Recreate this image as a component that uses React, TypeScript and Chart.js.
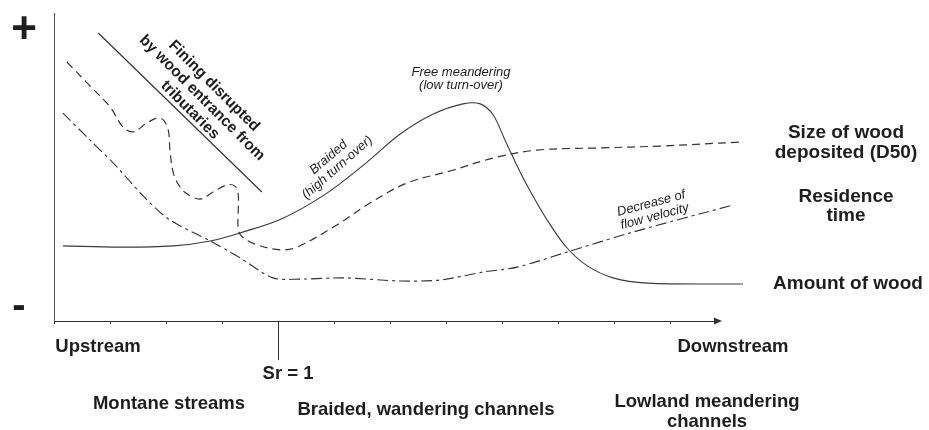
import React, { useEffect, useRef } from "react";
import { Chart, registerables } from "chart.js";

Chart.register(...registerables);

// ---- axis set-up (distance along river, relative magnitude) ----
const X_MAX = 11.8;
const Y_MAX = 10;
const X_TICKS = [0, 1, 2, 3, 4, 5, 6, 7, 8, 9, 10, 11];
const SR_X = 4; // Sr = 1 position

// ---- Amount of wood (solid) ----
const amountX = [0.16, 1.18, 2.13, 2.79, 3.32, 4.09, 4.88, 5.59, 6.18, 6.77, 7.3, 7.61, 7.84, 8.05, 8.32, 8.59, 8.86, 9.16, 9.52, 9.98, 10.59, 12.3];
const amountY = [2.44, 2.4, 2.44, 2.6, 2.86, 3.34, 4.16, 5.16, 6.07, 6.72, 7.05, 7.05, 6.69, 5.88, 4.84, 3.93, 3.12, 2.37, 1.79, 1.4, 1.23, 1.2];

// ---- Size of wood deposited (D50) (dashed) ----
const sizeX = [0.23, 0.59, 1.0, 1.23, 1.41, 1.66, 1.84, 1.95, 2.04, 2.07, 2.13, 2.25, 2.38, 2.61, 2.84, 3.09, 3.23, 3.29, 3.29, 3.38, 3.63, 4.04, 4.34, 5.05, 5.64, 6.3, 7.07, 7.84, 8.63, 9.75, 10.82, 12.25];
const sizeY = [8.41, 7.73, 6.95, 6.3, 6.14, 6.43, 6.59, 6.53, 6.2, 5.55, 4.81, 4.35, 4.12, 3.96, 4.19, 4.42, 4.38, 4.09, 2.96, 2.7, 2.47, 2.31, 2.4, 3.12, 3.83, 4.48, 4.87, 5.29, 5.55, 5.62, 5.68, 5.81];

// ---- Residence time (dash-dot) ----
const residenceX = [0.16, 0.64, 1.09, 1.63, 2.07, 2.79, 3.32, 3.91, 4.39, 5.16, 6.18, 6.89, 7.66, 8.27, 9.16, 10.34, 12.13];
const residenceY = [6.75, 5.88, 5.07, 3.99, 3.28, 2.6, 2.05, 1.4, 1.36, 1.4, 1.3, 1.33, 1.59, 1.75, 2.24, 2.89, 3.77];

// ---- "Fining disrupted" guide line ----
const finingX = [0.79, 3.71];
const finingY = [9.35, 4.19];

const INK = "#333";
const TEXT = "#1e1e1e";

const pts = (xs: number[], ys: number[]) => xs.map((x, i) => ({ x, y: ys[i] }));

type Lbl = { lines: string[]; x: number; y: number; font: string; rot?: number; lh?: number };

const LABELS: Lbl[] = [
  { lines: ["+"], x: 24, y: 31, font: "bold 44px 'Liberation Sans', Arial, sans-serif" },
  { lines: ["-"], x: 19, y: 307, font: "bold 40px 'Liberation Sans', Arial, sans-serif" },
  { lines: ["Upstream"], x: 98, y: 347, font: "bold 18.5px 'Liberation Sans', Arial, sans-serif" },
  { lines: ["Sr = 1"], x: 288, y: 374, font: "bold 18.5px 'Liberation Sans', Arial, sans-serif" },
  { lines: ["Downstream"], x: 733, y: 347, font: "bold 18.5px 'Liberation Sans', Arial, sans-serif" },
  { lines: ["Montane streams"], x: 169, y: 404, font: "bold 18.5px 'Liberation Sans', Arial, sans-serif" },
  { lines: ["Braided, wandering channels"], x: 426, y: 410, font: "bold 18.5px 'Liberation Sans', Arial, sans-serif" },
  { lines: ["Lowland meandering", "channels"], x: 707, y: 412, lh: 20, font: "bold 18.5px 'Liberation Sans', Arial, sans-serif" },
  { lines: ["Size of wood", "deposited (D50)"], x: 846, y: 143, lh: 20, font: "bold 19px 'Liberation Sans', Arial, sans-serif" },
  { lines: ["Residence", "time"], x: 846, y: 206, lh: 19, font: "bold 19px 'Liberation Sans', Arial, sans-serif" },
  { lines: ["Amount of wood"], x: 848, y: 284, font: "bold 19px 'Liberation Sans', Arial, sans-serif" },
  { lines: ["Fining disrupted", "by wood entrance from", "tributaries"], x: 202, y: 98, lh: 17, rot: 45, font: "bold 15.5px 'Liberation Sans', Arial, sans-serif" },
  { lines: ["Free meandering", "(low turn-over)"], x: 461, y: 78.5, lh: 13, font: "italic 13px 'Liberation Sans', Arial, sans-serif" },
  { lines: ["Braided", "(high turn-over)"], x: 333, y: 162.5, lh: 13.5, rot: -41, font: "italic 13px 'Liberation Sans', Arial, sans-serif" },
  { lines: ["Decrease of", "flow velocity"], x: 653, y: 210, lh: 13.5, rot: -15, font: "italic 13px 'Liberation Sans', Arial, sans-serif" },
];

const decorPlugin = {
  id: "decor",
  afterDraw(chart: any) {
    const { ctx, chartArea, scales } = chart;
    const xs = scales.x;
    ctx.save();
    // arrow head on the distance axis
    const ax = chartArea.right;
    const ay = chartArea.bottom;
    ctx.fillStyle = INK;
    ctx.beginPath();
    ctx.moveTo(ax - 1, ay - 3.5);
    ctx.lineTo(ax + 7, ay);
    ctx.lineTo(ax - 1, ay + 3.5);
    ctx.closePath();
    ctx.fill();
    // Sr = 1 marker
    const sx = Math.round(xs.getPixelForValue(SR_X)) + 0.5;
    ctx.strokeStyle = INK;
    ctx.lineWidth = 1;
    ctx.beginPath();
    ctx.moveTo(sx, ay);
    ctx.lineTo(sx, ay + 39);
    ctx.stroke();
    // labels
    ctx.fillStyle = TEXT;
    ctx.textAlign = "center";
    ctx.textBaseline = "middle";
    for (const l of LABELS) {
      ctx.save();
      ctx.translate(l.x, l.y);
      if (l.rot) ctx.rotate((l.rot * Math.PI) / 180);
      ctx.font = l.font;
      const lh = l.lh || 0;
      const n = l.lines.length;
      l.lines.forEach((t, i) => {
        ctx.fillText(t, 0, (i - (n - 1) / 2) * lh);
      });
      ctx.restore();
    }
    ctx.restore();
  },
};

export default function App() {
  const ref = useRef<HTMLCanvasElement | null>(null);
  useEffect(() => {
    if (!ref.current) return;
    const common = { pointRadius: 0, fill: false, clip: false as any, borderColor: INK };
    const chart = new Chart(ref.current, {
      type: "line",
      data: {
        datasets: [
          { ...common, label: "Amount of wood", data: pts(amountX, amountY), borderWidth: 1.1, tension: 0.35, borderColor: "#3a3a3a" },
          { ...common, label: "Size of wood deposited (D50)", data: pts(sizeX, sizeY), borderWidth: 1.2, tension: 0.35, borderDash: [8, 5] },
          { ...common, label: "Residence time", data: pts(residenceX, residenceY), borderWidth: 1.1, tension: 0.3, borderDash: [11, 4, 3, 4] },
          { ...common, label: "Fining", data: pts(finingX, finingY), borderWidth: 1.2, tension: 0 },
        ],
      },
      options: {
        responsive: false,
        animation: false,
        events: [],
        layout: { padding: { left: 54, top: 13, right: 214, bottom: 106 } },
        plugins: { legend: { display: false }, tooltip: { enabled: false } },
        scales: {
          x: {
            type: "linear",
            min: 0,
            max: X_MAX,
            afterBuildTicks: (s: any) => {
              s.ticks = X_TICKS.map((v) => ({ value: v }));
            },
            afterFit: (s: any) => {
              s.height = 3;
            },
            ticks: { display: false },
            grid: { drawOnChartArea: false, drawTicks: true, tickLength: 3, color: INK },
            border: { display: true, color: INK, width: 1 },
          },
          y: {
            type: "linear",
            min: 0,
            max: Y_MAX,
            afterFit: (s: any) => {
              s.width = 0;
            },
            ticks: { display: false },
            grid: { display: false },
            border: { display: true, color: "#555", width: 1 },
          },
        },
      },
      plugins: [decorPlugin],
    });
    return () => chart.destroy();
  }, []);
  return (
    <div style={{ position: "absolute", left: 0, top: 0, width: 929, height: 430, background: "#fff" }}>
      <canvas ref={ref} width={929} height={430} style={{ display: "block" }} />
    </div>
  );
}
